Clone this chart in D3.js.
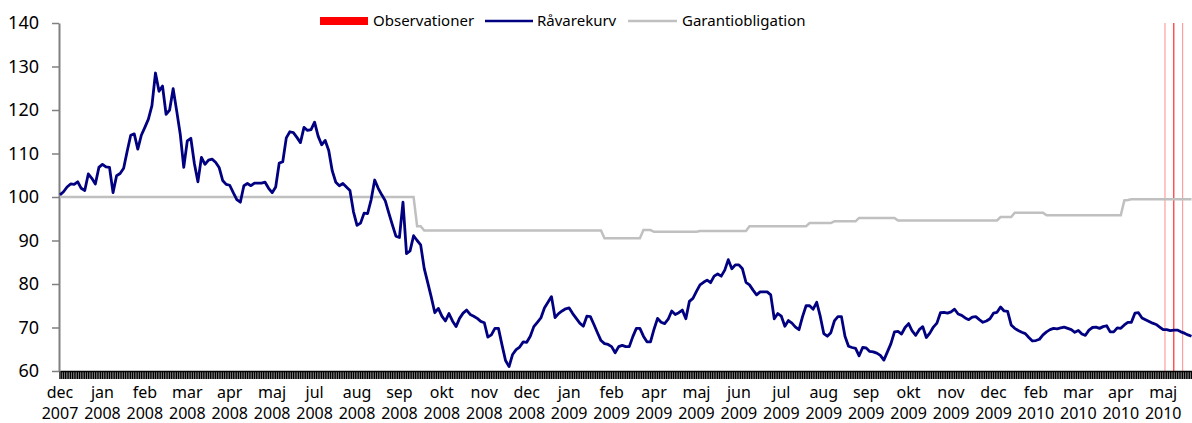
<!DOCTYPE html>
<html><head><meta charset="utf-8">
<script src="https://cdn.jsdelivr.net/npm/d3@7"></script>
<style>
body{margin:0;background:#fff;}
svg{display:block;}
text{font-family:"Noto Sans",sans-serif;fill:#000;}
</style>
</head><body>
<svg id="chart" width="1192" height="423"></svg>
<script>
// ---- data ----
const monthLabels = ["dec","jan","feb","mar","apr","maj","jul","aug","sep","okt","nov","dec","jan","feb","apr","maj","jun","jul","aug","sep","okt","nov","dec","feb","mar","apr","maj"];
const yearLabels = ["2007","2008","2008","2008","2008","2008","2008","2008","2008","2008","2008","2008","2009","2009","2009","2009","2009","2009","2009","2009","2009","2009","2009","2010","2010","2010","2010"];
const yTicks = [60,70,80,90,100,110,120,130,140];

// one value every second trading day
const raavarekurv = [
100.5,101.2,102.3,103,102.9,103.5,102,101.5,105.3,104.3,
103,106.8,107.5,106.9,106.8,101,104.9,105.4,106.6,110.5,
114.2,114.5,111,114.2,116,117.9,121,128.5,124.3,125.5,
119,120,124.9,119.8,114.5,106.8,112.9,113.5,107.7,103.5,
109.1,107.5,108.5,108.7,108,106.8,103.8,102.9,102.7,101,
99.4,98.8,102.6,103.1,102.6,103.2,103.2,103.2,103.4,102,
101,102.3,107.8,108.1,113.6,115,114.8,113.7,112.5,116,
115.3,115.5,117.2,114,112,113,110.7,106,103.4,102.6,
103.1,102.3,101.5,96.6,93.5,94,96.3,96.2,99.4,103.9,
102,100.5,99.1,96.3,93.6,91,90.7,98.8,87,87.6,
91.1,90,89,83.6,80.3,77,73.4,74.4,72.6,71.5,
73.2,71.5,70.2,72.1,73.3,74,73,72.6,72.1,71.4,
71.1,67.8,68.3,69.8,69.8,66,62.4,61,63.8,64.9,
65.5,66.7,66.6,68,70.2,71.2,72.2,74.5,75.8,77.1,
72.3,73.2,73.8,74.3,74.5,73.2,72.1,71,70.3,72.6,
72.5,70.7,68.8,67,66.3,66.1,65.6,64.2,65.6,65.9,
65.6,65.6,67.9,69.8,69.8,68,66.7,66.7,69.6,72.1,
71.2,70.9,71.9,73.8,73,73.4,74,72,76,76.7,
78.3,79.8,80.4,80.9,80.3,81.8,82.3,81.8,83.2,85.6,
83.5,84.4,84.4,83.5,80.4,79.8,78.6,77.5,78.2,78.2,
78.2,77.5,72,73.2,72.6,70.3,71.6,71,70.1,69.5,
72.5,75,75,74.2,75.8,72.6,68.6,68,68.8,71.5,
72.5,72.5,68,65.7,65.4,65.2,63.5,65.4,65.3,64.5,
64.4,64.1,63.6,62.5,64.4,66.3,69,69.1,68.5,70,
70.9,69.2,68.2,69.5,70.2,67.7,68.7,70.1,71,73.4,
73.5,73.3,73.6,74.2,73.1,72.8,72.2,71.8,72.4,72.5,
71.8,71.2,71.5,72,73.3,73.5,74.7,73.8,73.7,70.6,
69.8,69.3,68.9,68.6,67.7,66.9,67,67.3,68.3,69,
69.5,69.8,69.7,69.9,70.1,69.8,69.5,68.9,69.3,68.5,
68.2,69.4,70,70.1,69.8,70.2,70.4,69,69,69.9,
69.8,70.6,71.2,71.2,73.3,73.4,72.2,71.8,71.4,71,
70.7,70.1,69.5,69.5,69.3,69.4,69.4,69,68.7,68.3,
68
];

const garantiobligation = [
100,100,100,100,100,100,100,100,100,100,
100,100,100,100,100,100,100,100,100,100,
100,100,100,100,100,100,100,100,100,100,
100,100,100,100,100,100,100,100,100,100,
100,100,100,100,100,100,100,100,100,100,
100,100,100,100,100,100,100,100,100,100,
100,100,100,100,100,100,100,100,100,100,
100,100,100,100,100,100,100,100,100,100,
100,100,100,100,100,100,100,100,100,100,
100,100,100,100,100,100,100,100,100,100,
100,93.3,93.3,92.3,92.3,92.3,92.3,92.3,92.3,92.3,
92.3,92.3,92.3,92.3,92.3,92.3,92.3,92.3,92.3,92.3,
92.3,92.3,92.3,92.3,92.3,92.3,92.3,92.3,92.3,92.3,
92.3,92.3,92.3,92.3,92.3,92.3,92.3,92.3,92.3,92.3,
92.3,92.3,92.3,92.3,92.3,92.3,92.3,92.3,92.3,92.3,
92.3,92.3,92.3,92.3,90.5,90.5,90.5,90.5,90.5,90.5,
90.5,90.5,90.5,90.5,90.5,92.4,92.4,92.4,92.0,92.0,
92.0,92.0,92.0,92.0,92.0,92.0,92.0,92.0,92.0,92.0,
92.0,92.2,92.2,92.2,92.2,92.2,92.2,92.2,92.2,92.2,
92.2,92.2,92.2,92.2,92.2,93.3,93.3,93.3,93.3,93.3,
93.3,93.3,93.3,93.3,93.3,93.3,93.3,93.3,93.3,93.3,
93.3,93.3,94.0,94.0,94.0,94.0,94.0,94.0,94.0,94.4,
94.4,94.4,94.4,94.4,94.4,94.4,95.2,95.2,95.2,95.2,
95.2,95.2,95.2,95.2,95.2,95.2,95.2,94.6,94.6,94.6,
94.6,94.6,94.6,94.6,94.6,94.6,94.6,94.6,94.6,94.6,
94.6,94.6,94.6,94.6,94.6,94.6,94.6,94.6,94.6,94.6,
94.6,94.6,94.6,94.6,94.6,94.6,95.4,95.4,95.4,95.4,
96.4,96.4,96.4,96.4,96.4,96.4,96.4,96.4,96.4,95.8,
95.8,95.8,95.8,95.8,95.8,95.8,95.8,95.8,95.8,95.8,
95.8,95.8,95.8,95.8,95.8,95.8,95.8,95.8,95.8,95.8,
95.8,99.2,99.3,99.5,99.5,99.5,99.5,99.5,99.5,99.5,
99.5,99.5,99.5,99.5,99.5,99.5,99.5,99.5,99.5,99.5,
99.5
];

// observation dates (trading-day index)
const observationDays = [625, 630, 635];

const daysPerSample = 2;
const daysPerLabel = 24;
const nDays = (raavarekurv.length - 1) * daysPerSample + 1;
const dayTicks = d3.range(nDays);

// ---- chart ----
const svg = d3.select("#chart");
const x = d3.scaleLinear().domain([0, nDays - 1]).range([60, 1191.5]);
const y = d3.scaleLinear().domain([60, 140]).range([371, 23]);

// observations (red thin bars)
svg.append("g").selectAll("rect").data(observationDays).join("rect")
  .attr("x", d => x(d) - 0.5).attr("width", 1)
  .attr("y", y(140)).attr("height", y(60) - y(140))
  .attr("fill", "#ff0000")
  .attr("fill-opacity", (d, i) => i === 1 ? 1 : 0.45);

// x axis: one tick mark per trading day (dense band)
svg.append("g").attr("class", "daytics").selectAll("line").data(dayTicks).join("line")
  .attr("x1", d => x(d)).attr("x2", d => x(d))
  .attr("y1", 371).attr("y2", 379)
  .style("stroke", "#000").style("stroke-width", "1.4px");
const xAxis = svg.append("g").attr("transform", "translate(0,371)")
  .call(d3.axisBottom(x).tickValues([]).tickSizeOuter(0));
xAxis.select(".domain").attr("stroke", "#000").attr("stroke-width", 1.5);

// x labels
const labG = svg.append("g");
monthLabels.forEach((m, k) => {
  const t = labG.append("text").attr("x", x(k * daysPerLabel)).attr("text-anchor", "middle")
    .attr("font-size", 16);
  t.append("tspan").attr("x", x(k * daysPerLabel)).attr("y", 398).text(m);
  t.append("tspan").attr("x", x(k * daysPerLabel)).attr("y", 419).text(yearLabels[k]);
});

// y axis
const yAxis = svg.append("g").attr("transform", "translate(59,0)")
  .call(d3.axisLeft(y).tickValues(yTicks).tickSize(7).tickSizeOuter(0).tickPadding(13));
yAxis.select(".domain").attr("stroke", "#808080").attr("stroke-width", 2);
yAxis.selectAll(".tick line").attr("stroke", "#808080").attr("stroke-width", 1.5);
yAxis.selectAll(".tick text").attr("font-size", 18).attr("fill", "#000")
  .attr("font-family", "'Noto Sans',sans-serif");

// lines
const line = d3.line().x((d, i) => x(i * daysPerSample)).y(d => y(d));
svg.append("path").datum(garantiobligation).attr("d", line)
  .attr("fill", "none").attr("stroke", "#c0c0c0").attr("stroke-width", 2.5);
svg.append("path").datum(raavarekurv).attr("d", line)
  .attr("fill", "none").attr("stroke", "#000080").attr("stroke-width", 2.8)
  .attr("stroke-linejoin", "round");

// legend
const leg = svg.append("g").attr("font-size", 15);
leg.append("rect").attr("x", 320).attr("y", 17).attr("width", 48).attr("height", 8).attr("fill", "#ff0000");
leg.append("text").attr("x", 373).attr("y", 26).attr("font-size", 15).text("Observationer");
leg.append("line").attr("x1", 485).attr("x2", 533).attr("y1", 21).attr("y2", 21)
  .attr("stroke", "#000080").attr("stroke-width", 2.5);
leg.append("text").attr("x", 537).attr("y", 26).attr("font-size", 15).text("Råvarekurv");
leg.append("line").attr("x1", 628).attr("x2", 677).attr("y1", 21).attr("y2", 21)
  .attr("stroke", "#c0c0c0").attr("stroke-width", 2.5);
leg.append("text").attr("x", 682).attr("y", 26).attr("font-size", 15).text("Garantiobligation");
</script>
</body></html>
